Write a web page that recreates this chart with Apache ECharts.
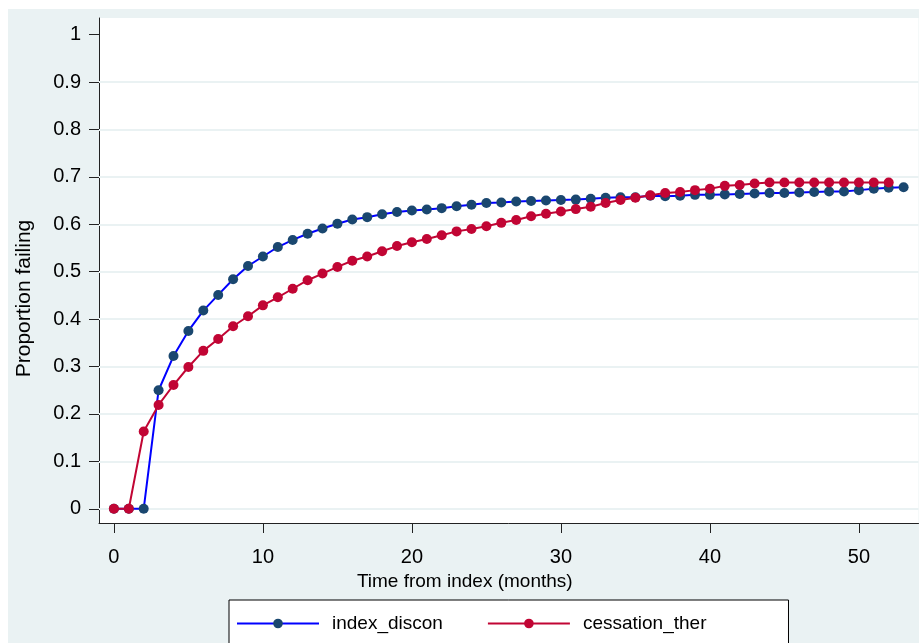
<!DOCTYPE html>
<html>
<head>
<meta charset="utf-8">
<script src="https://cdn.jsdelivr.net/npm/echarts@6/dist/echarts.min.js"></script>
<style>
  html, body { margin: 0; padding: 0; background: #fff; }
  #main { width: 919px; height: 643px; }
</style>
</head>
<body>
<div id="main"></div>
<script>
// months since index
var months = [];
for (var m = 0; m <= 53; m++) months.push(m);

var indexDiscon = [0, 0, 0, 0.250, 0.322, 0.375, 0.418, 0.451, 0.484, 0.512,
  0.532, 0.552, 0.567, 0.580, 0.591, 0.601, 0.610, 0.615, 0.621, 0.626,
  0.629, 0.631, 0.634, 0.638, 0.641, 0.645, 0.646, 0.648, 0.649, 0.650,
  0.651, 0.652, 0.654, 0.656, 0.657, 0.657, 0.660, 0.659, 0.660, 0.662,
  0.662, 0.663, 0.664, 0.665, 0.666, 0.666, 0.667, 0.668, 0.669, 0.669,
  0.672, 0.675, 0.677, 0.678];

var cessationTher = [0, 0, 0.163, 0.219, 0.261, 0.299, 0.333, 0.358, 0.385, 0.406,
  0.429, 0.446, 0.464, 0.482, 0.496, 0.510, 0.523, 0.532, 0.543, 0.554,
  0.562, 0.569, 0.577, 0.585, 0.590, 0.596, 0.603, 0.609, 0.617, 0.622,
  0.627, 0.632, 0.637, 0.645, 0.651, 0.656, 0.661, 0.666, 0.668, 0.672,
  0.675, 0.681, 0.683, 0.686, 0.688, 0.688, 0.688, 0.688, 0.688, 0.688,
  0.688, 0.688, 0.688];

var xTicks = [0, 10, 20, 30, 40, 50];
var yTicks = [0, 0.1, 0.2, 0.3, 0.4, 0.5, 0.6, 0.7, 0.8, 0.9, 1];
var yGrid = [0, 0.1, 0.2, 0.3, 0.4, 0.5, 0.6, 0.7, 0.8, 0.9];

function pairs(ys) {
  return ys.map(function (v, i) { return [months[i], v]; });
}

var bg = '#EAF2F3';
var font = 'Liberation Sans, Arial, Helvetica, sans-serif';

var myChart = echarts.init(document.getElementById('main'));
var option = {
  backgroundColor: '#fff',
  animation: false,
  graphic: [{
    type: 'rect', z: -100, silent: true,
    shape: { x: 8, y: 9, width: 911, height: 634 },
    style: { fill: bg }
  }],
  grid: {
    left: 99, top: 18, right: 0.5, bottom: 120,
    show: true, backgroundColor: '#fff', borderWidth: 0
  },
  xAxis: {
    type: 'value', min: -1, max: 54,
    name: 'Time from index (months)',
    nameLocation: 'middle', nameGap: 44,
    nameTextStyle: { fontFamily: font, fontSize: 19, color: '#000', padding: [0, 88, 0, 0] },
    axisLine: { show: true, onZero: false, lineStyle: { color: '#222', width: 1 } },
    axisTick: { show: true, length: 10, customValues: xTicks, lineStyle: { color: '#222' } },
    axisLabel: { customValues: xTicks, margin: 24, fontFamily: font, fontSize: 20, color: '#000' },
    splitLine: { show: false }
  },
  yAxis: {
    type: 'value', min: -0.03, max: 1.035,
    name: 'Proportion failing',
    nameLocation: 'middle', nameGap: 64, nameRotate: 90,
    nameTextStyle: { fontFamily: font, fontSize: 21, color: '#000', padding: [0, 56, 0, 0] },
    axisLine: { show: true, onZero: false, lineStyle: { color: '#222', width: 1 } },
    axisTick: { show: true, length: 10, customValues: yTicks, lineStyle: { color: '#222' } },
    axisLabel: {
      customValues: yTicks, margin: 18, fontFamily: font, fontSize: 20, color: '#000',
      formatter: function (v) { return String(Math.round(v * 10) / 10); }
    },
    splitLine: { show: false }
  },
  legend: {
    left: 229, top: 600,
    backgroundColor: '#fff', borderColor: '#000', borderWidth: 1,
    padding: [14, 82, 40, 7],
    itemGap: 44, itemWidth: 82, itemHeight: 12,
    textStyle: { fontFamily: font, fontSize: 19, color: '#000', padding: [0, 0, 0, 8] },
    data: ['index_discon', 'cessation_ther']
  },
  series: [{
    name: 'index_discon', type: 'line',
    data: pairs(indexDiscon),
    symbol: 'circle', symbolSize: 10,
    lineStyle: { color: '#0000FF', width: 2 },
    itemStyle: { color: '#1A476F' },
    z: 2,
    markLine: {
      silent: true, symbol: 'none', label: { show: false },
      lineStyle: { color: bg, width: 2, type: 'solid' },
      data: yGrid.map(function (v) { return { yAxis: v }; }),
      z: 1
    }
  }, {
    name: 'cessation_ther', type: 'line',
    data: pairs(cessationTher),
    symbol: 'circle', symbolSize: 10,
    lineStyle: { color: '#C10534', width: 2 },
    itemStyle: { color: '#C10534' },
    z: 3
  }]
};
myChart.setOption(option);
</script>
</body>
</html>
